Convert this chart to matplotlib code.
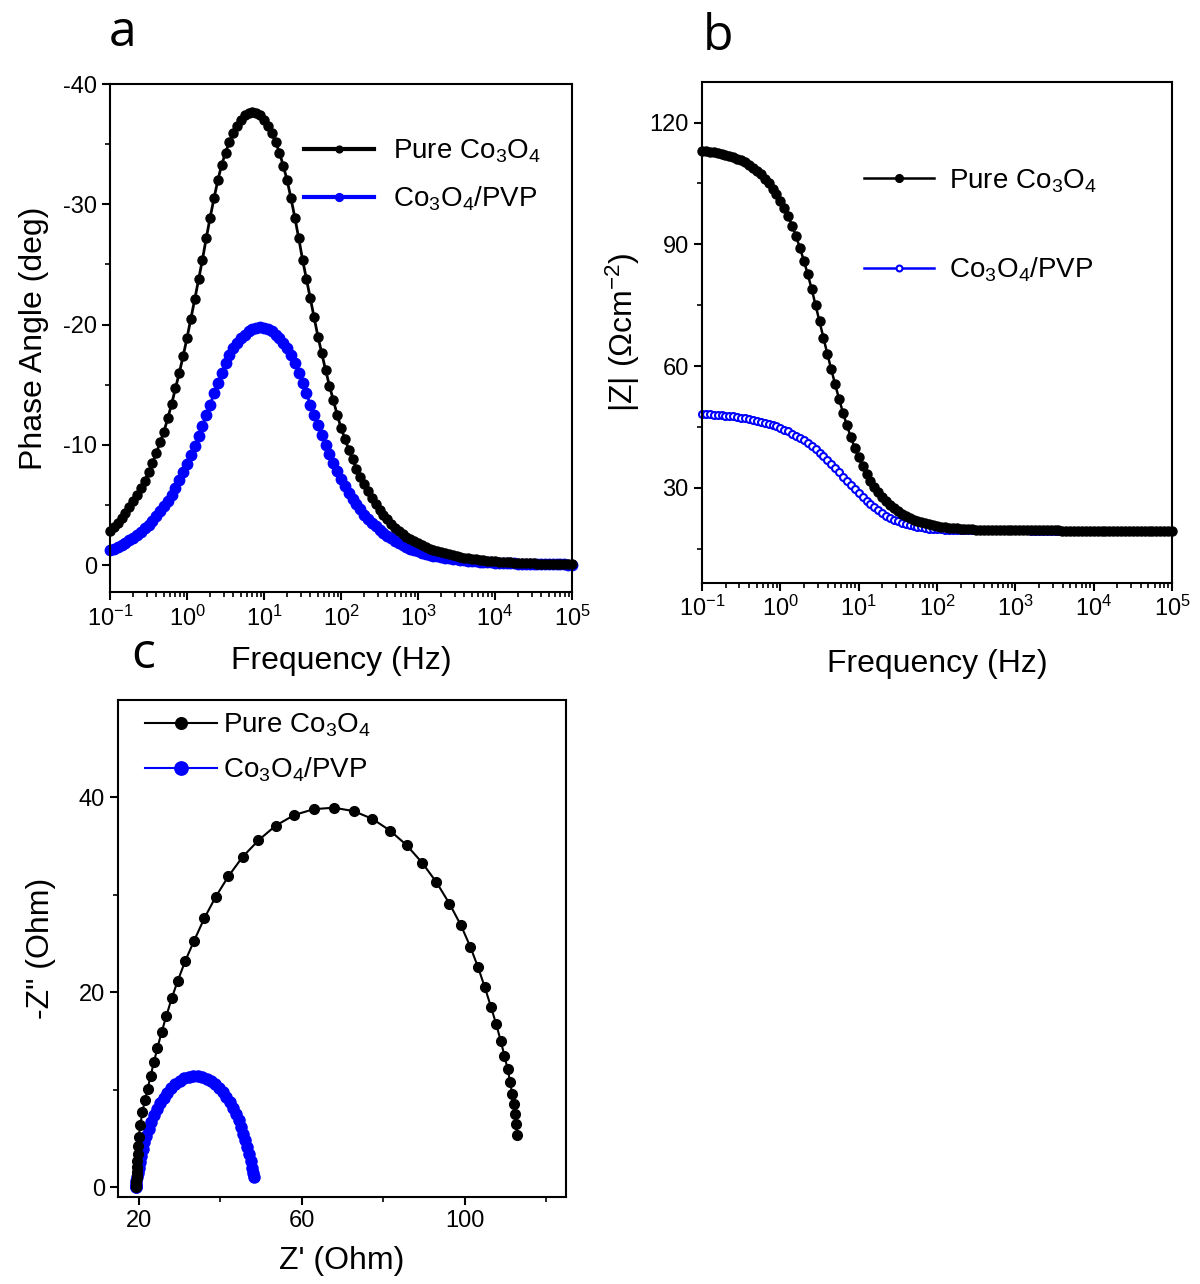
"""
    EIS comparison of pure Co3O4 and Co3O4/PVP: Bode phase, Bode modulus, Nyquist
"""

import matplotlib
matplotlib.use("Agg")
import matplotlib.pyplot as plt
from matplotlib.ticker import MultipleLocator, FixedLocator

plt.rcParams["font.family"] = ["Liberation Sans", "DejaVu Sans"]
plt.rcParams["mathtext.fontset"] = "custom"
plt.rcParams["mathtext.rm"] = "Liberation Sans"
plt.rcParams["mathtext.it"] = "Liberation Sans:italic"
plt.rcParams["axes.unicode_minus"] = False

labels = ["Pure Co$_3$O$_4$", "Co$_3$O$_4$/PVP"]
blue = "#0000ff"

# frequency sweep (Hz), 20 points per decade
freq = [0.1, 0.1122, 0.1259, 0.1413, 0.1585, 0.1778, 0.1995, 0.2239, 0.2512, 0.2818,
        0.3162, 0.3548, 0.3981, 0.4467, 0.5012, 0.5623, 0.631, 0.7079, 0.7943, 0.8913,
        1, 1.122, 1.259, 1.413, 1.585, 1.778, 1.995, 2.239, 2.512, 2.818,
        3.162, 3.548, 3.981, 4.467, 5.012, 5.623, 6.31, 7.079, 7.943, 8.913,
        10, 11.22, 12.59, 14.13, 15.85, 17.78, 19.95, 22.39, 25.12, 28.18,
        31.62, 35.48, 39.81, 44.67, 50.12, 56.23, 63.1, 70.79, 79.43, 89.13,
        100, 112.2, 125.9, 141.3, 158.5, 177.8, 199.5, 223.9, 251.2, 281.8,
        316.2, 354.8, 398.1, 446.7, 501.2, 562.3, 631, 707.9, 794.3, 891.3,
        1000, 1122, 1259, 1413, 1585, 1778, 1995, 2239, 2512, 2818,
        3162, 3548, 3981, 4467, 5012, 5623, 6310, 7079, 7943, 8913,
        10000, 11220, 12590, 14130, 15850, 17780, 19950, 22390, 25120, 28180,
        31620, 35480, 39810, 44670, 50120, 56230, 63100, 70790, 79430, 89130,
        100000]

# phase angle (deg), read as positive magnitudes, plotted negative
phase_pure = [2.8, 3.15, 3.5, 3.9, 4.3, 4.8, 5.3, 5.85, 6.4, 7.0,
              7.7, 8.5, 9.3, 10.2, 11.1, 12.2, 13.4, 14.7, 16.0, 17.4,
              18.9, 20.5, 22.1, 23.75, 25.4, 27.2, 28.9, 30.5, 32.0, 33.3,
              34.3, 35.2, 35.9, 36.5, 37.0, 37.4, 37.6, 37.7, 37.6, 37.4,
              37.0, 36.5, 35.9, 35.2, 34.3, 33.2, 32.0, 30.5, 28.9, 27.2,
              25.4, 23.8, 22.2, 20.6, 19.0, 17.6, 16.2, 14.9, 13.7, 12.5,
              11.4, 10.5, 9.6, 8.8, 8.0, 7.35, 6.7, 6.15, 5.6, 5.1,
              4.6, 4.2, 3.8, 3.45, 3.1, 2.85, 2.6, 2.37, 2.15, 1.97,
              1.8, 1.65, 1.5, 1.37, 1.25, 1.15, 1.05, 0.96, 0.88, 0.81,
              0.74, 0.68, 0.62, 0.57, 0.52, 0.48, 0.44, 0.40, 0.37, 0.34,
              0.31, 0.28, 0.26, 0.24, 0.22, 0.20, 0.19, 0.17, 0.16, 0.145,
              0.13, 0.12, 0.11, 0.10, 0.09, 0.085, 0.08, 0.075, 0.07, 0.065,
              0.06]
phase_pvp = [1.21, 1.34, 1.47, 1.65, 1.84, 2.05, 2.26, 2.52, 2.78, 3.07,
             3.36, 3.68, 4.04, 4.46, 4.88, 5.36, 5.83, 6.41, 7.04, 7.72,
             8.40, 9.14, 9.92, 10.76, 11.60, 12.47, 13.34, 14.28, 15.17, 16.01,
             16.80, 17.48, 18.01, 18.48, 18.85, 19.16, 19.43, 19.64, 19.74, 19.79,
             19.74, 19.64, 19.43, 19.16, 18.85, 18.48, 18.01, 17.43, 16.80, 16.01,
             15.17, 14.28, 13.34, 12.50, 11.66, 10.82, 9.98, 9.24, 8.51, 7.82,
             7.19, 6.56, 5.99, 5.51, 5.04, 4.62, 4.20, 3.86, 3.52, 3.23,
             2.94, 2.68, 2.42, 2.21, 2.00, 1.81, 1.63, 1.50, 1.37, 1.24,
             1.13, 1.03, 0.95, 0.87, 0.79, 0.72, 0.66, 0.60, 0.55, 0.50,
             0.46, 0.43, 0.39, 0.36, 0.33, 0.30, 0.27, 0.25, 0.23, 0.21,
             0.19, 0.18, 0.16, 0.15, 0.14, 0.13, 0.12, 0.105, 0.10, 0.09,
             0.084, 0.076, 0.068, 0.063, 0.058, 0.053, 0.047, 0.045, 0.042, 0.039,
             0.037]

# |Z| (ohm cm-2)
modz_pure = [113.0, 112.9, 112.8, 112.65, 112.5, 112.3, 112.1, 111.8, 111.5, 111.1,
             110.7, 110.2, 109.6, 108.9, 108.1, 107.2, 106.2, 105.0, 103.7, 102.3,
             100.7, 98.9, 97.0, 94.6, 92.0, 89.1, 86.0, 82.6, 79.0, 75.0,
             71.0, 67.0, 63.0, 59.2, 55.5, 51.9, 48.5, 45.4, 42.5, 39.9,
             37.5, 35.4, 33.5, 31.8, 30.3, 29.0, 27.8, 26.7, 25.8, 25.0,
             24.3, 23.7, 23.1, 22.6, 22.2, 21.85, 21.5, 21.25, 21.0, 20.8,
             20.6, 20.45, 20.3, 20.2, 20.1, 20.02, 19.95, 19.9, 19.85, 19.8,
             19.75, 19.72, 19.7, 19.67, 19.65, 19.63, 19.62, 19.61, 19.6, 19.59,
             19.58, 19.57, 19.56, 19.56, 19.55, 19.55, 19.54, 19.54, 19.53, 19.53,
             19.52, 19.52, 19.51, 19.51, 19.5, 19.5, 19.5, 19.5, 19.49, 19.49,
             19.48, 19.48, 19.48, 19.48, 19.47, 19.47, 19.47, 19.47, 19.46, 19.46,
             19.46, 19.46, 19.45, 19.45, 19.45, 19.45, 19.44, 19.44, 19.44, 19.44,
             19.43]
modz_pvp = [48.2, 48.15, 48.1, 48.05, 48.0, 47.9, 47.8, 47.7, 47.6, 47.45,
            47.3, 47.15, 47.0, 46.8, 46.6, 46.35, 46.1, 45.8, 45.5, 45.15,
            44.8, 44.35, 43.9, 43.4, 42.9, 42.3, 41.7, 41.0, 40.3, 39.5,
            38.7, 37.8, 36.9, 35.9, 34.9, 33.85, 32.8, 31.75, 30.7, 29.7,
            28.7, 27.7, 26.8, 26.0, 25.2, 24.5, 23.8, 23.2, 22.7, 22.2,
            21.8, 21.45, 21.1, 20.85, 20.6, 20.45, 20.3, 20.15, 20.0, 19.92,
            19.85, 19.8, 19.75, 19.72, 19.7, 19.67, 19.65, 19.63, 19.62, 19.61,
            19.6, 19.59, 19.58, 19.57, 19.56, 19.56, 19.55, 19.55, 19.54, 19.54,
            19.53, 19.53, 19.52, 19.52, 19.51, 19.51, 19.5, 19.5, 19.5, 19.5,
            19.49, 19.49, 19.48, 19.48, 19.48, 19.48, 19.47, 19.47, 19.47, 19.47,
            19.46, 19.46, 19.46, 19.46, 19.45, 19.45, 19.45, 19.45, 19.44, 19.44,
            19.44, 19.44, 19.43, 19.43, 19.43, 19.43, 19.42, 19.42, 19.42, 19.42,
            19.42]

# Nyquist data, high frequency -> low frequency
zre_pure = [19.4, 19.4, 19.4, 19.4, 19.42, 19.45, 19.47, 19.5, 19.52, 19.56,
            19.62, 19.7, 19.82, 20.0, 20.4, 20.9, 21.5, 22.2, 22.9, 23.7,
            24.6, 25.6, 26.8, 28.1, 29.6, 31.4, 33.6, 36.1, 38.9, 42.0,
            45.5, 49.4, 53.6, 58.2, 63.0, 67.9, 72.8, 77.4, 81.7, 85.8,
            89.6, 93.1, 96.3, 99.1, 101.4, 103.3, 105.0, 106.5, 107.8, 108.9,
            109.8, 110.6, 111.2, 111.7, 112.1, 112.4, 112.7, 112.9]
zim_pure = [0.05, 0.1, 0.15, 0.25, 0.4, 0.6, 0.9, 1.2, 1.6, 2.1,
            2.7, 3.4, 4.2, 5.2, 6.4, 7.7, 8.9, 10.1, 11.4, 12.8,
            14.3, 15.9, 17.6, 19.4, 21.2, 23.2, 25.3, 27.6, 29.8, 31.9,
            33.9, 35.6, 37.1, 38.2, 38.8, 38.95, 38.6, 37.8, 36.6, 35.1,
            33.3, 31.3, 29.1, 26.9, 24.7, 22.6, 20.5, 18.5, 16.7, 15.0,
            13.5, 12.1, 10.8, 9.6, 8.5, 7.5, 6.45, 5.4]

zre_pvp = [19.3, 19.3, 19.3, 19.35, 19.45, 19.6, 19.8, 20.0, 20.3, 20.6,
           21.0, 21.4, 21.9, 22.4, 23.0, 23.7, 24.4, 25.2, 26.1, 27.0,
           28.0, 29.0, 30.1, 31.2, 32.3, 33.4, 34.5, 35.6, 36.7, 37.7,
           38.7, 39.7, 40.6, 41.5, 42.3, 43.1, 43.8, 44.5, 45.1, 45.7,
           46.2, 46.7, 47.1, 47.5, 47.8, 48.0, 48.2]
zim_pvp = [0.0, 0.05, 0.1, 0.3, 0.6, 1.0, 1.5, 2.0, 2.6, 3.2,
           3.9, 4.6, 5.3, 6.0, 6.7, 7.4, 8.0, 8.6, 9.2, 9.7,
           10.2, 10.6, 10.95, 11.2, 11.35, 11.4, 11.4, 11.3, 11.15, 10.9,
           10.6, 10.2, 9.75, 9.25, 8.7, 8.1, 7.5, 6.85, 6.2, 5.5,
           4.8, 4.1, 3.4, 2.7, 2.0, 1.5, 1.0]

tick_fs = 17
label_fs = 23
legend_fs = 20


def style_axis(ax):
    for sp in ax.spines.values():
        sp.set_linewidth(1.5)
    ax.tick_params(which="major", direction="out", length=6, width=1.5,
                   labelsize=tick_fs, top=False, right=False)
    ax.tick_params(which="minor", direction="out", length=3.5, width=1.2,
                   top=False, right=False)


fig = plt.figure(figsize=(12, 12.84), dpi=100)

# ---- a: phase angle
ax_a = fig.add_axes([0.0917, 0.5389, 0.385, 0.3956])
ax_a.plot(freq, [-p for p in phase_pure], color="black", lw=2, marker="o",
          ms=6.5, label=labels[0], clip_on=False, zorder=3)
ax_a.plot(freq, [-p for p in phase_pvp], color=blue, lw=2, marker="o",
          ms=7.5, label=labels[1], clip_on=False, zorder=2)
ax_a.set_xscale("log")
ax_a.set_xlim(0.1, 1e5)
ax_a.set_ylim(2.25, -40)
ax_a.yaxis.set_major_locator(MultipleLocator(10))
ax_a.yaxis.set_minor_locator(MultipleLocator(5))
style_axis(ax_a)
ax_a.set_xlabel("Frequency (Hz)", fontsize=label_fs, labelpad=11)
ax_a.set_ylabel("Phase Angle (deg)", fontsize=label_fs, labelpad=10)
leg_a = ax_a.legend(loc="upper left", bbox_to_anchor=(0.42, 0.895),
                    frameon=False, fontsize=legend_fs, handlelength=2.5,
                    handletextpad=0.7, labelspacing=0.7, borderpad=0,
                    borderaxespad=0, markerscale=0.75)
for h in leg_a.legend_handles:
    h.set_linewidth(3)

# ---- b: impedance modulus
ax_b = fig.add_axes([0.585, 0.546, 0.3917, 0.3902])
ax_b.plot(freq, modz_pure, color="black", lw=1.8, marker="o", ms=6.5,
          label=labels[0], clip_on=False, zorder=3)
ax_b.plot(freq, modz_pvp, color=blue, lw=1.8, marker="o", ms=5,
          mfc="white", mec=blue, mew=1.5, label=labels[1],
          clip_on=False, zorder=2)
ax_b.set_xscale("log")
ax_b.set_xlim(0.1, 1e5)
ax_b.set_ylim(6.6, 130)
ax_b.yaxis.set_major_locator(MultipleLocator(30))
ax_b.yaxis.set_minor_locator(FixedLocator([15, 45, 75, 105]))
style_axis(ax_b)
ax_b.set_xlabel("Frequency (Hz)", fontsize=label_fs, labelpad=20)
ax_b.set_ylabel("|Z| ($\\Omega$cm$^{-2}$)", fontsize=label_fs, labelpad=5)
ax_b.legend(loc="upper left", bbox_to_anchor=(0.345, 0.83),
            frameon=False, fontsize=legend_fs, handlelength=2.5,
            handletextpad=0.55, labelspacing=2.2, borderpad=0,
            borderaxespad=0, markerscale=0.85)

# ---- c: Nyquist
ax_c = fig.add_axes([0.0983, 0.0678, 0.3733, 0.387])
ax_c.plot(zre_pure, zim_pure, color="black", lw=1.5, marker="o", ms=7,
          label=labels[0], clip_on=False, zorder=3)
ax_c.plot(zre_pvp, zim_pvp, color=blue, lw=1.5, marker="o", ms=8,
          label=labels[1], clip_on=False, zorder=2)
ax_c.set_xlim(14.9, 124.9)
ax_c.set_ylim(-1.0, 50)
ax_c.xaxis.set_major_locator(FixedLocator([20, 60, 100]))
ax_c.xaxis.set_minor_locator(FixedLocator([40, 80, 120]))
ax_c.yaxis.set_major_locator(MultipleLocator(20))
ax_c.yaxis.set_minor_locator(FixedLocator([10, 30]))
style_axis(ax_c)
ax_c.set_xlabel("Z' (Ohm)", fontsize=label_fs, labelpad=10)
ax_c.set_ylabel('-Z" (Ohm)', fontsize=label_fs, labelpad=16)
ax_c.legend(loc="upper left", bbox_to_anchor=(0.06, 0.977),
            frameon=False, fontsize=legend_fs, handlelength=2.6,
            handletextpad=0.2, labelspacing=0.6, borderpad=0,
            borderaxespad=0, markerscale=1.2)

# panel letters
for letter, x, y in [("a", 0.102, 0.974), ("b", 0.598, 0.971), ("c", 0.119, 0.49)]:
    fig.text(x, y, letter, fontsize=36, family=["Open Sans", "DejaVu Sans"],
             ha="center", va="center")

fig.savefig("out.png", dpi=100)
plt.close(fig)
